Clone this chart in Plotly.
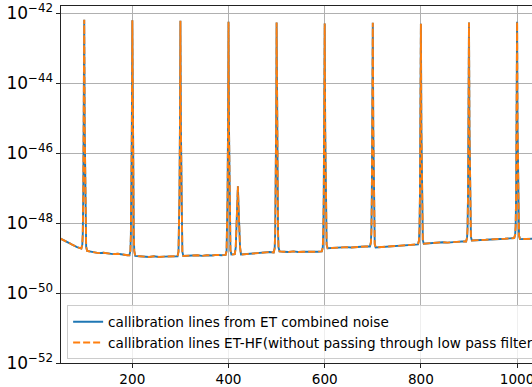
import plotly.graph_objects as go

# Frequency grid (Hz) and log10 of the power spectral density for the calibration-line spectrum
freq_hz = [
    50, 55, 60, 65, 70, 75, 80, 85, 90, 94,
    96, 97, 98, 99, 100, 101, 102, 103, 104,
    106, 112, 120, 130, 140, 150, 160, 170, 180, 190, 194,
    196, 197, 198, 199, 200, 201, 202, 203, 204,
    206, 215, 225, 235, 245, 255, 265, 275, 285, 294,
    296, 297, 298, 299, 300, 301, 302, 303, 304,
    306, 315, 325, 335, 345, 355, 365, 375, 385, 394,
    396, 397, 398, 399, 400, 401, 402, 403, 404,
    406, 410, 413, 415, 416.5, 418, 419.5, 421, 422.5, 424,
    426, 435, 445, 455, 465, 475, 485, 494,
    496, 497, 498, 499, 500, 501, 502, 503, 504,
    506, 515, 525, 535, 545, 555, 565, 575, 585, 594,
    596, 597, 598, 599, 600, 601, 602, 603, 604,
    606, 615, 625, 635, 645, 655, 665, 675, 685, 694,
    696, 697, 698, 699, 700, 701, 702, 703, 704,
    706, 715, 725, 735, 745, 755, 765, 775, 785, 794,
    796, 797, 798, 799, 800, 801, 802, 803, 804,
    806, 815, 825, 835, 845, 855, 865, 875, 885, 894,
    896, 897, 898, 899, 900, 901, 902, 903, 904,
    906, 915, 925, 935, 945, 955, 965, 975, 985, 994,
    996, 997, 998, 999, 1000, 1001, 1002, 1003, 1004,
    1006, 1015, 1025, 1035,
]

log10_psd_combined = [
    -48.44, -48.47, -48.51, -48.55, -48.58, -48.62, -48.66, -48.69, -48.71, -48.73,
    -48.62, -48.30, -47.20, -45.30, -42.19, -45.30, -47.20, -48.30, -48.68,
    -48.80, -48.82, -48.84, -48.86, -48.85, -48.88, -48.89, -48.88, -48.91, -48.92, -48.92,
    -48.80, -48.35, -47.25, -45.30, -42.21, -45.30, -47.25, -48.35, -48.80,
    -48.94, -48.95, -48.96, -48.97, -48.95, -48.97, -48.96, -48.95, -48.96, -48.95,
    -48.82, -48.35, -47.25, -45.30, -42.22, -45.30, -47.25, -48.35, -48.82,
    -48.94, -48.93, -48.94, -48.92, -48.94, -48.92, -48.93, -48.91, -48.92, -48.91,
    -48.80, -48.35, -47.25, -45.30, -42.25, -45.30, -47.25, -48.35, -48.78,
    -48.90, -48.90, -48.89, -48.70, -48.20, -47.60, -46.95, -47.60, -48.20, -48.70,
    -48.90, -48.89, -48.87, -48.87, -48.85, -48.85, -48.83, -48.84,
    -48.72, -48.30, -47.25, -45.30, -42.27, -45.30, -47.25, -48.30, -48.70,
    -48.81, -48.82, -48.83, -48.81, -48.83, -48.82, -48.81, -48.82, -48.82, -48.81,
    -48.70, -48.30, -47.25, -45.30, -42.30, -45.30, -47.25, -48.30, -48.62,
    -48.72, -48.71, -48.70, -48.70, -48.69, -48.70, -48.68, -48.68, -48.67, -48.67,
    -48.56, -48.25, -47.25, -45.30, -42.28, -45.30, -47.25, -48.25, -48.60,
    -48.70, -48.69, -48.67, -48.67, -48.65, -48.65, -48.63, -48.63, -48.61, -48.61,
    -48.50, -48.20, -47.25, -45.30, -42.31, -45.30, -47.25, -48.20, -48.49,
    -48.59, -48.58, -48.57, -48.57, -48.55, -48.56, -48.54, -48.54, -48.53, -48.53,
    -48.42, -48.15, -47.20, -45.30, -42.27, -45.30, -47.20, -48.15, -48.40,
    -48.50, -48.50, -48.48, -48.48, -48.47, -48.47, -48.45, -48.45, -48.44, -48.43,
    -48.33, -48.10, -47.20, -45.30, -42.25, -45.30, -47.20, -48.10, -48.36,
    -48.46, -48.46, -48.45, -48.45,
]

# The ET-HF channel (no low pass filter) follows the combined-noise spectrum
log10_psd_hf = list(log10_psd_combined)

psd_combined = [10 ** v for v in log10_psd_combined]
psd_hf = [10 ** v for v in log10_psd_hf]

x_ticks = [200, 400, 600, 800, 1000]

font_family = "DejaVu Sans"
font_size = 13.6

fig = go.Figure()
fig.add_trace(go.Scatter(
    x=freq_hz, y=psd_combined, mode="lines",
    name="callibration lines from ET combined noise",
    line=dict(color="#1f77b4", width=1.9),
))
fig.add_trace(go.Scatter(
    x=freq_hz, y=psd_hf, mode="lines",
    name="callibration lines ET-HF(without passing through low pass filter)",
    line=dict(color="#ff7f0e", width=1.9, dash="7px,3px"),
))

fig.update_layout(
    width=532, height=387,
    margin=dict(l=61, r=0, t=6, b=24, autoexpand=False),
    paper_bgcolor="white", plot_bgcolor="white",
    font=dict(family=font_family, size=font_size, color="black"),
    showlegend=True,
    legend=dict(
        x=0.013, y=0.01, xanchor="left", yanchor="bottom",
        bgcolor="rgba(255,255,255,0.8)", bordercolor="#cccccc", borderwidth=1,
        font=dict(family=font_family, size=font_size, color="black"),
        tracegroupgap=0,
    ),
)

fig.update_xaxes(
    range=[51.7, 1031], tickvals=x_ticks, ticktext=[str(t) for t in x_ticks],
    ticklabeloverflow="allow",
    showgrid=True, gridcolor="#b0b0b0", gridwidth=1,
    showline=True, linecolor="#222222", linewidth=1.3, mirror=True,
    ticks="outside", ticklen=4, tickcolor="#222222",
    zeroline=False,
)
fig.update_yaxes(
    type="log", range=[-52, -41.8], dtick=2, exponentformat="power",
    showgrid=True, gridcolor="#b0b0b0", gridwidth=1,
    showline=True, linecolor="#222222", linewidth=1.3, mirror=False,
    ticks="outside", ticklen=4, tickcolor="#222222",
    zeroline=False,
)

fig.write_html("out.html")
